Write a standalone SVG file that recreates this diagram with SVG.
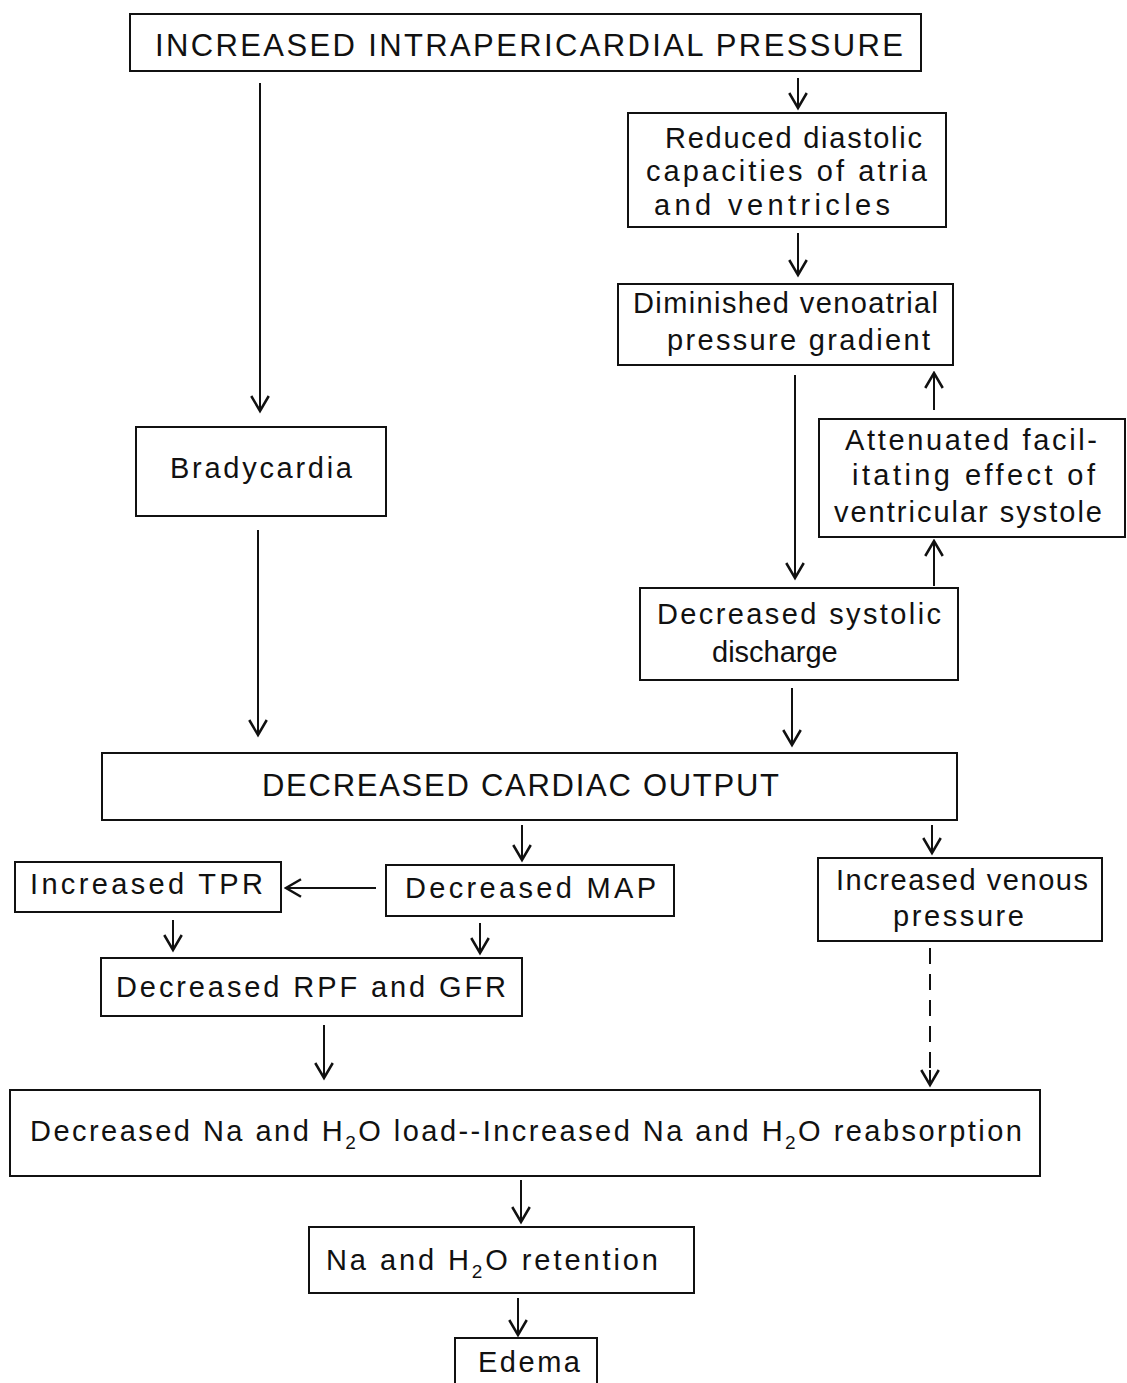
<svg xmlns="http://www.w3.org/2000/svg" width="1127" height="1383" viewBox="0 0 1127 1383">
<style>
.box{fill:#fff;stroke:#111;stroke-width:2}
.t{font-family:"Liberation Sans","DejaVu Sans",sans-serif;font-size:29px;fill:#111}
.cap{font-size:31px}
.c{stroke:#111;stroke-width:2;fill:none}
.d{stroke-dasharray:16,10}
</style>
<defs>
<marker id="ah" markerUnits="userSpaceOnUse" markerWidth="20" markerHeight="20" viewBox="-14 -8 16 16" refX="0" refY="0" orient="auto">
<path d="M-12,-7 L0,0 L-12,7" fill="none" stroke="#111" stroke-width="2"/>
</marker>
</defs>
<rect width="1127" height="1383" fill="#fff"/>
<g id="connectors">
<line class="c" x1="260" y1="83" x2="260" y2="411" marker-end="url(#ah)"/>
<line class="c" x1="798" y1="78" x2="798" y2="108" marker-end="url(#ah)"/>
<line class="c" x1="798" y1="233" x2="798" y2="275" marker-end="url(#ah)"/>
<line class="c" x1="795" y1="375" x2="795" y2="578" marker-end="url(#ah)"/>
<line class="c" x1="934" y1="410" x2="934" y2="373" marker-end="url(#ah)"/>
<line class="c" x1="934" y1="586" x2="934" y2="541" marker-end="url(#ah)"/>
<line class="c" x1="258" y1="530" x2="258" y2="735" marker-end="url(#ah)"/>
<line class="c" x1="792" y1="688" x2="792" y2="745" marker-end="url(#ah)"/>
<line class="c" x1="522" y1="825" x2="522" y2="860" marker-end="url(#ah)"/>
<line class="c" x1="932" y1="825" x2="932" y2="853" marker-end="url(#ah)"/>
<line class="c" x1="376" y1="888" x2="286" y2="888" marker-end="url(#ah)"/>
<line class="c" x1="173" y1="920" x2="173" y2="950" marker-end="url(#ah)"/>
<line class="c" x1="480" y1="923" x2="480" y2="953" marker-end="url(#ah)"/>
<line class="c" x1="324" y1="1025" x2="324" y2="1078" marker-end="url(#ah)"/>
<line class="c d" x1="930" y1="948" x2="930" y2="1070"/>
<line class="c" x1="930" y1="1070" x2="930" y2="1085" marker-end="url(#ah)"/>
<line class="c" x1="521" y1="1180" x2="521" y2="1222" marker-end="url(#ah)"/>
<line class="c" x1="518" y1="1298" x2="518" y2="1335" marker-end="url(#ah)"/>
</g>
<g id="n1"><rect class="box" x="130" y="14" width="791" height="57"/>
<text class="t cap" x="155" y="56" textLength="748" lengthAdjust="spacing">INCREASED INTRAPERICARDIAL  PRESSURE</text></g>
<g id="n2"><rect class="box" x="628" y="113" width="318" height="114"/>
<text class="t" x="665" y="148" textLength="257" lengthAdjust="spacing">Reduced diastolic</text>
<text class="t" x="646" y="181" textLength="281" lengthAdjust="spacing">capacities of atria</text>
<text class="t" x="654" y="215" textLength="236" lengthAdjust="spacing">and ventricles</text></g>
<g id="n3"><rect class="box" x="618" y="284" width="335" height="81"/>
<text class="t" x="633" y="313" textLength="305" lengthAdjust="spacing">Diminished venoatrial</text>
<text class="t" x="667" y="350" textLength="263" lengthAdjust="spacing">pressure gradient</text></g>
<g id="n4"><rect class="box" x="819" y="419" width="306" height="118"/>
<text class="t" x="845" y="450" textLength="252" lengthAdjust="spacing">Attenuated facil-</text>
<text class="t" x="852" y="485" textLength="243" lengthAdjust="spacing">itating effect of</text>
<text class="t" x="834" y="522" textLength="268" lengthAdjust="spacing">ventricular systole</text></g>
<g id="n5"><rect class="box" x="136" y="427" width="250" height="89"/>
<text class="t" x="170" y="478" textLength="182" lengthAdjust="spacing">Bradycardia</text></g>
<g id="n6"><rect class="box" x="640" y="588" width="318" height="92"/>
<text class="t" x="657" y="624" textLength="284" lengthAdjust="spacing">Decreased systolic</text>
<text class="t" x="712" y="662">discharge</text></g>
<g id="n7"><rect class="box" x="102" y="753" width="855" height="67"/>
<text class="t cap" x="262" y="796" textLength="517" lengthAdjust="spacing">DECREASED CARDIAC OUTPUT</text></g>
<g id="n8"><rect class="box" x="15" y="862" width="266" height="50"/>
<text class="t" x="30" y="894" textLength="233" lengthAdjust="spacing">Increased TPR</text></g>
<g id="n9"><rect class="box" x="386" y="865" width="288" height="51"/>
<text class="t" x="405" y="898" textLength="251" lengthAdjust="spacing">Decreased MAP</text></g>
<g id="n10"><rect class="box" x="818" y="858" width="284" height="83"/>
<text class="t" x="836" y="890" textLength="252" lengthAdjust="spacing">Increased venous</text>
<text class="t" x="893" y="926" textLength="131" lengthAdjust="spacing">pressure</text></g>
<g id="n11"><rect class="box" x="101" y="958" width="421" height="58"/>
<text class="t" x="116" y="997" textLength="390" lengthAdjust="spacing">Decreased RPF and GFR</text></g>
<g id="n12"><rect class="box" x="10" y="1090" width="1030" height="86"/>
<text class="t" x="30" y="1141" textLength="992" lengthAdjust="spacing">Decreased Na and H<tspan font-size="19" dy="8">2</tspan><tspan dy="-8">O load--Increased Na and H</tspan><tspan font-size="19" dy="8">2</tspan><tspan dy="-8">O reabsorption</tspan></text></g>
<g id="n13"><rect class="box" x="309" y="1227" width="385" height="66"/>
<text class="t" x="326" y="1270" textLength="332" lengthAdjust="spacing">Na and H<tspan font-size="19" dy="8">2</tspan><tspan dy="-8">O retention</tspan></text></g>
<g id="n14"><rect class="box" x="455" y="1338" width="142" height="60"/>
<text class="t" x="478" y="1372" textLength="102" lengthAdjust="spacing">Edema</text></g>
</svg>
